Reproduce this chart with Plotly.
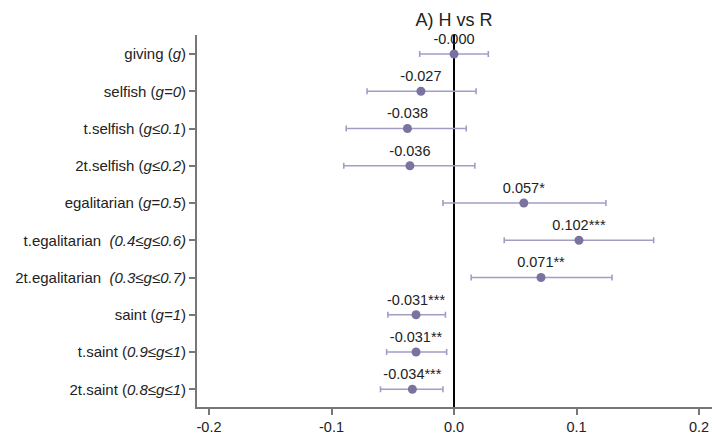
import plotly.graph_objects as go

categories = [
    "giving (<i>g</i>)",
    "selfish (<i>g=0</i>)",
    "t.selfish (<i>g≤0.1</i>)",
    "2t.selfish (<i>g≤0.2</i>)",
    "egalitarian (<i>g=0.5</i>)",
    "t.egalitarian  <i>(0.4≤g≤0.6)</i>",
    "2t.egalitarian  <i>(0.3≤g≤0.7)</i>",
    "saint (<i>g=1</i>)",
    "t.saint (<i>0.9≤g≤1</i>)",
    "2t.saint (<i>0.8≤g≤1</i>)",
]
estimates = [-0.000, -0.027, -0.038, -0.036, 0.057, 0.102, 0.071, -0.031, -0.031, -0.034]
ci_low = [-0.028, -0.071, -0.088, -0.090, -0.009, 0.041, 0.014, -0.054, -0.055, -0.060]
ci_high = [0.028, 0.018, 0.010, 0.017, 0.124, 0.163, 0.129, -0.007, -0.006, -0.009]
labels = ["-0.000", "-0.027", "-0.038", "-0.036", "0.057*", "0.102***", "0.071**",
          "-0.031***", "-0.031**", "-0.034***"]
x_ticks = [-0.2, -0.1, 0.0, 0.1, 0.2]
x_ticklabels = ["-0.2", "-0.1", "0.0", "0.1", "0.2"]

err_plus = [h - e for h, e in zip(ci_high, estimates)]
err_minus = [e - l for e, l in zip(estimates, ci_low)]

fig = go.Figure()
fig.add_trace(go.Scatter(
    x=estimates, y=categories, mode="markers+text",
    text=labels, textposition="top center",
    textfont=dict(size=14.5, color="#222222"),
    marker=dict(size=9, color="#7a739f"),
    error_x=dict(type="data", symmetric=False, array=err_plus, arrayminus=err_minus,
                 color="#a29dc7", thickness=1.6, width=3),
    showlegend=False, cliponaxis=False,
))

fig.update_layout(
    width=712, height=438,
    margin=dict(l=197, r=0, t=35, b=31),
    paper_bgcolor="white", plot_bgcolor="white",
    font=dict(family="Arial, Liberation Sans, sans-serif", size=14.5, color="#222222"),
    title=dict(text="A) H vs R", x=0.6375, xanchor="center", y=0.954, yanchor="middle",
               font=dict(size=18, color="#222222")),
)
fig.update_xaxes(
    range=[-0.2098, 0.2106], tickvals=x_ticks, ticktext=x_ticklabels,
    showgrid=False, zeroline=True, zerolinecolor="black", zerolinewidth=1.5,
    showline=True, linecolor="#777777", linewidth=2,
    ticks="outside", ticklen=6, tickcolor="#777777", tickwidth=1.5,
    tickfont=dict(size=14.5, color="#222222"),
)
fig.update_yaxes(
    type="category", categoryorder="array", categoryarray=categories,
    range=[9.475, -0.51], showgrid=False, zeroline=False,
    showline=True, linecolor="#777777", linewidth=2,
    ticks="outside", ticklen=6, tickcolor="#777777", tickwidth=1.5,
    tickfont=dict(size=15, color="#222222"),
)

fig.write_html("out.html", config={"displayModeBar": False},
               post_script="document.body.style.margin='0';")
